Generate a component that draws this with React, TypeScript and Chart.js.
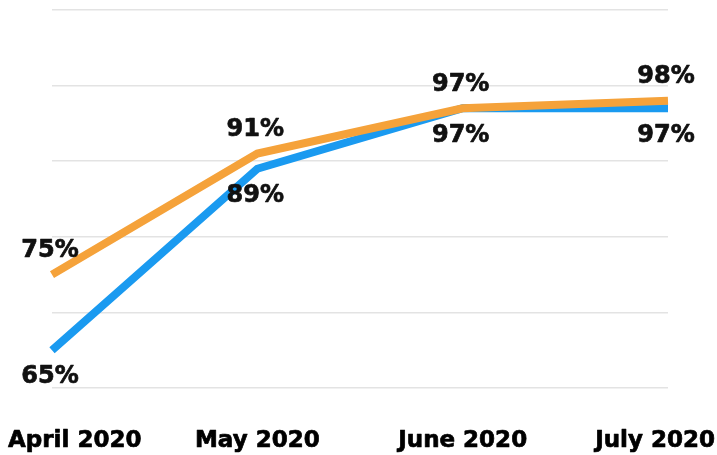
import React, { useEffect, useRef } from "react";
import { Chart, registerables } from "chart.js";

Chart.register(...registerables);

const categories = ["April 2020", "May 2020", "June 2020", "July 2020"];
const seriesOrange = [75, 91, 97, 98];
const seriesBlue = [65, 89, 97, 97];
const yMin = 60;
const yMax = 110;
const yStep = 10;

const FONT = "'DejaVu Sans', Verdana, sans-serif";

function boldText(ctx: CanvasRenderingContext2D, t: string, x: number, y: number) {
  ctx.fillText(t, x, y);
  ctx.strokeText(t, x, y);
}

const labelPlugin = {
  id: "customLabels",
  afterDatasetsDraw(chart: any) {
    const ctx = chart.ctx;
    ctx.save();
    ctx.font = `bold 24px ${FONT}`;
    ctx.fillStyle = "#111";
    ctx.strokeStyle = "#111";
    ctx.lineWidth = 0.7;
    ctx.lineJoin = "round";
    ctx.textAlign = "center";
    ctx.textBaseline = "middle";
    chart.data.datasets.forEach((ds: any, di: number) => {
      const meta = chart.getDatasetMeta(di);
      const above = ds.labelPos === "above";
      meta.data.forEach((pt: any, i: number) => {
        const y = above ? pt.y - 24 : pt.y + 27;
        boldText(ctx, ds.data[i] + "%", pt.x - 2, y);
      });
    });
    // x-axis category labels
    const xs = chart.scales.x;
    const W = chart.width;
    ctx.font = `bold 23px ${FONT}`;
    ctx.fillStyle = "#000";
    ctx.strokeStyle = "#000";
    ctx.textAlign = "left";
    categories.forEach((c, i) => {
      const cx = xs.getPixelForValue(i);
      const w = ctx.measureText(c).width;
      let left = cx - w / 2;
      if (left < 8) left = 8;
      if (left + w > W - 2) left = W - 2 - w;
      boldText(ctx, c, left, chart.chartArea.bottom + 53);
    });
    ctx.restore();
  },
};

export default function App() {
  const ref = useRef<HTMLCanvasElement>(null);
  useEffect(() => {
    if (!ref.current) return;
    const chart = new Chart(ref.current, {
      type: "line",
      data: {
        labels: categories,
        datasets: [
          {
            label: "Orange",
            data: seriesOrange,
            borderColor: "#F5A23A",
            borderWidth: 8,
            pointRadius: 0,
            tension: 0,
            borderCapStyle: "butt",
            borderJoinStyle: "miter",
            order: 1,
            labelPos: "above",
          } as any,
          {
            label: "Blue",
            data: seriesBlue,
            borderColor: "#1A9AF0",
            borderWidth: 8,
            pointRadius: 0,
            tension: 0,
            borderCapStyle: "butt",
            borderJoinStyle: "miter",
            order: 2,
            labelPos: "below",
          } as any,
        ],
      },
      options: {
        animation: false,
        responsive: false,
        maintainAspectRatio: false,
        layout: { padding: { left: 52, right: 49, top: 10, bottom: 59 } },
        plugins: {
          legend: { display: false },
          tooltip: { enabled: false },
          title: { display: false },
        },
        scales: {
          x: {
            offset: false,
            grid: { display: false },
            border: { display: false },
            ticks: { display: false },
          },
          y: {
            min: yMin,
            max: yMax,
            ticks: { display: false, stepSize: yStep },
            border: { display: false },
            grid: { color: "#e3e3e3", lineWidth: 1.5, drawTicks: false },
          },
        },
      },
      plugins: [labelPlugin],
    });
    return () => chart.destroy();
  }, []);
  return (
    <div style={{ position: "absolute", left: 0, top: 0, width: 717, height: 455, background: "#fff" }}>
      <canvas ref={ref} width={717} height={455} style={{ width: 717, height: 455 }} />
    </div>
  );
}
